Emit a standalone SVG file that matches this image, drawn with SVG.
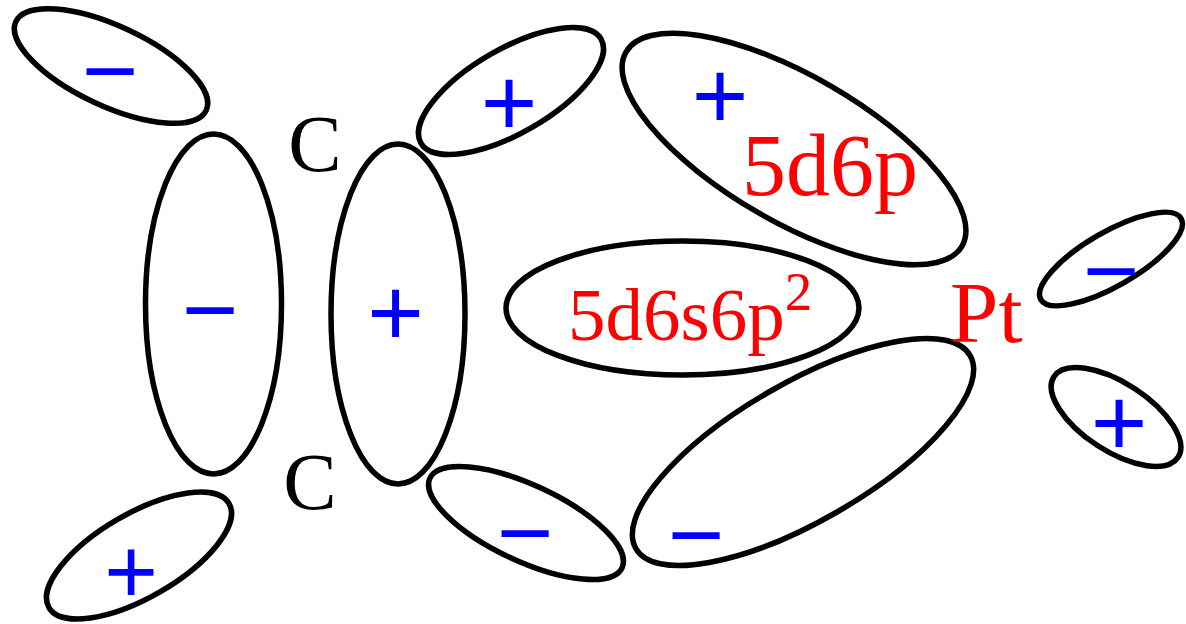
<svg xmlns="http://www.w3.org/2000/svg" width="1186" height="624" viewBox="0 0 1186 624">
  <style>
    .lobe { fill: none; stroke: #000; stroke-width: 5.5; }
    .sign { font-family: "Liberation Sans", Arial, sans-serif; font-size: 97px; fill: #0000ff; text-anchor: middle; }
    .atom { font-family: "Liberation Serif", "Times New Roman", serif; font-size: 80px; fill: #000; text-anchor: middle; }
    .orb { font-family: "Liberation Serif", "Times New Roman", serif; fill: #ff0000; }
  </style>
  <rect width="1186" height="624" fill="#fff"/>
  <g id="connectors"/>
  <g id="lobe-top-left">
    <ellipse class="lobe" cx="111" cy="66" rx="105" ry="40" transform="rotate(25 111 66)"/>
    <text class="sign" x="110" y="104">−</text>
  </g>
  <g id="lobe-c-left">
    <ellipse class="lobe" cx="213.5" cy="304" rx="68" ry="170"/>
    <text class="sign" x="210" y="343">−</text>
  </g>
  <g id="lobe-c-right">
    <ellipse class="lobe" cx="398" cy="314" rx="67" ry="170"/>
    <text class="sign" x="395.5" y="346">+</text>
  </g>
  <g id="lobe-top-middle">
    <ellipse class="lobe" cx="511" cy="91" rx="104" ry="42" transform="rotate(-30 511 91)"/>
    <text class="sign" x="509" y="136">+</text>
  </g>
  <g id="lobe-5d6p">
    <ellipse class="lobe" cx="794" cy="149" rx="194" ry="73" transform="rotate(30 794 149)"/>
    <text class="sign" x="720" y="129">+</text>
    <text class="orb" x="830" y="195" font-size="88" text-anchor="middle">5d6p</text>
  </g>
  <g id="lobe-5d6s6p2">
    <ellipse class="lobe" cx="682.5" cy="308" rx="176.5" ry="67"/>
    <text class="orb" x="568" y="340" font-size="75">5d6s6p<tspan font-size="55" dy="-30">2</tspan></text>
  </g>
  <g id="lobe-lower-right">
    <ellipse class="lobe" cx="803" cy="452" rx="193" ry="69" transform="rotate(-30 803 452)"/>
    <text class="sign" x="696" y="568">−</text>
  </g>
  <g id="lobe-bottom-middle">
    <ellipse class="lobe" cx="526" cy="523" rx="106" ry="38" transform="rotate(25 526 523)"/>
    <text class="sign" x="525" y="566">−</text>
  </g>
  <g id="lobe-bottom-left">
    <ellipse class="lobe" cx="139" cy="555.5" rx="104" ry="42" transform="rotate(-30 139 555.5)"/>
    <text class="sign" x="131" y="603" style="font-size:92px">+</text>
  </g>
  <g id="lobe-pt-upper">
    <ellipse class="lobe" cx="1111" cy="259" rx="81" ry="27" transform="rotate(-30 1111 259)"/>
    <text class="sign" x="1111" y="304">−</text>
  </g>
  <g id="lobe-pt-lower">
    <ellipse class="lobe" cx="1116" cy="417" rx="74" ry="34" transform="rotate(33 1116 417)"/>
    <text class="sign" x="1119" y="456">+</text>
  </g>
  <g id="atom-c-top">
    <text class="atom" x="315" y="171">C</text>
  </g>
  <g id="atom-c-bottom">
    <text class="atom" x="310" y="509">C</text>
  </g>
  <g id="atom-pt">
    <text class="orb" x="950" y="342" font-size="87">Pt</text>
  </g>
</svg>
